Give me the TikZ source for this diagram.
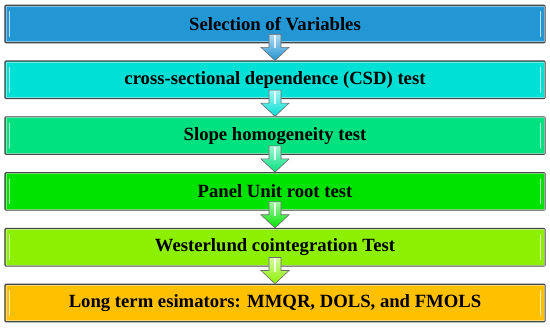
\documentclass[tikz,border=0pt]{standalone}
\usepackage{fontspec}
\setmainfont{Liberation Serif}
\usepackage{tikz}
\definecolor{stepblue}{RGB}{35,150,212}
\definecolor{stepcyan}{RGB}{0,224,212}
\definecolor{stepteal}{RGB}{0,226,128}
\definecolor{stepgreen}{RGB}{0,226,0}
\definecolor{steplime}{RGB}{140,240,0}
\definecolor{steporange}{RGB}{255,192,0}
\definecolor{edgegray}{RGB}{70,70,70}

\begin{document}
\begin{tikzpicture}[
    stage/.style={rectangle, draw=edgegray, line width=1.2pt,
                  fill=#1, rounded corners=1pt,
                  minimum width=18.9cm, minimum height=1.31cm,
                  font=\fontsize{18.6}{22}\selectfont\bfseries, align=center},
    bevel/.style={white, line width=1.6pt, line cap=round, opacity=0.7},
    downarr/.style={draw=edgegray!80, line width=0.6pt,
                    top color=#1!35!white, bottom color=#1}
  ]
    \useasboundingbox (-9.625,0.84) rectangle (9.625,-10.675);
    \node[stage=stepblue]   (L0) at (0, 0)      {Selection of Variables};
    \node[stage=stepcyan]   (L1) at (0,-1.953)  {cross-sectional dependence (CSD) test};
    \node[stage=stepteal]   (L2) at (0,-3.906)  {Slope homogeneity test};
    \node[stage=stepgreen]  (L3) at (0,-5.859)  {Panel Unit root test};
    \node[stage=steplime]   (L4) at (0,-7.812)  {Westerlund cointegration Test};
    \node[stage=steporange] (L5) at (0,-9.765)  {Long term esimators: MMQR, DOLS, and FMOLS};
    % glossy edges
    \foreach \n in {0,...,5}{
      \draw[white, opacity=0.45, line width=0.8pt]
        ([shift={(1.6pt,1.6pt)}]L\n.south west) rectangle ([shift={(-1.6pt,-1.6pt)}]L\n.north east);
      \draw[bevel] ([shift={(5pt,7pt)}]L\n.south west) -- ([shift={(5pt,-7pt)}]L\n.north west);
      \draw[bevel] ([shift={(-5pt,7pt)}]L\n.south east) -- ([shift={(-5pt,-7pt)}]L\n.north east);
    }
    % block arrows
    \foreach \a/\b/\c in {L0/L1/stepblue, L1/L2/stepcyan, L2/L3/stepteal,
                          L3/L4/stepgreen, L4/L5/steplime}{
      \path[downarr=\c] ([shift={(-6pt,9pt)}]\a.south) -- ([shift={(-6pt,-4pt)}]\a.south)
        -- ([shift={(-14pt,-4pt)}]\a.south) -- (\b.north)
        -- ([shift={(14pt,-4pt)}]\a.south) -- ([shift={(6pt,-4pt)}]\a.south)
        -- ([shift={(6pt,9pt)}]\a.south) -- cycle;
      \draw[white, line width=1.4pt, opacity=0.8] ([yshift=8pt]\a.south) -- ([yshift=-5pt]\a.south);
    }
  \end{tikzpicture}
\end{document}
